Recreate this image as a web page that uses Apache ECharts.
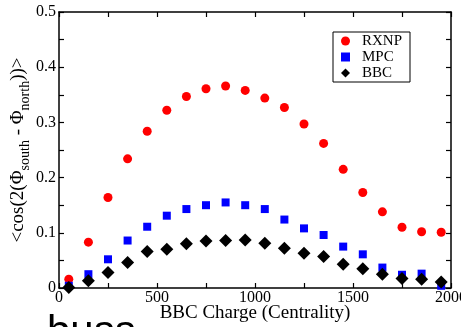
<!DOCTYPE html>
<html><head><meta charset="utf-8">
<script src="https://cdn.jsdelivr.net/npm/echarts@6/dist/echarts.min.js"></script>
<style>html,body{margin:0;padding:0;background:#fff}#c{width:461px;height:327px}</style>
</head><body><div id="c"></div>
<script>
const charge = [50,150,250,350,450,550,650,750,850,950,1050,1150,1250,1350,1450,1550,1650,1750,1850,1950];
const rxnp = [0.016,0.083,0.164,0.234,0.284,0.322,0.347,0.361,0.366,0.358,0.344,0.327,0.297,0.262,0.215,0.173,0.138,0.110,0.102,0.101];
const mpc  = [0.004,0.025,0.052,0.086,0.111,0.131,0.143,0.150,0.155,0.150,0.143,0.124,0.108,0.096,0.075,0.061,0.037,0.024,0.026,0.004];
const bbc  = [0.001,0.013,0.028,0.046,0.066,0.070,0.080,0.085,0.086,0.087,0.081,0.072,0.063,0.057,0.043,0.035,0.025,0.017,0.016,0.011];
const xTicks = [0,500,1000,1500,2000];
const yTicks = [0,0.1,0.2,0.3,0.4,0.5];

const serif = 'Liberation Serif';
const pairs = arr => charge.map((x,i)=>[x,arr[i]]);
const tickStyle = {show:true, inside:true, length:5, lineStyle:{color:'#000', width:1.2}};
const minorStyle = {show:true, splitNumber:2, length:5, lineStyle:{color:'#000', width:1.2}};
const lineStyle = {show:true, onZero:false, lineStyle:{color:'#000', width:1.5}};
const labelStyle = {color:'#000', fontFamily:serif, fontSize:16};

const chart = echarts.init(document.getElementById('c'), null, {renderer:'canvas'});
chart.setOption({
  animation:false,
  backgroundColor:'#fff',
  grid:{left:59, right:10, top:12, bottom:39, containLabel:false, outerBoundsMode:'none'},
  xAxis:[
    {type:'value', min:xTicks[0], max:xTicks[xTicks.length-1], interval:500, position:'bottom',
     axisLine:lineStyle, axisTick:tickStyle, minorTick:minorStyle, splitLine:{show:false},
     axisLabel:Object.assign({margin:2, formatter:v=>String(v)}, labelStyle),
     name:'BBC Charge (Centrality)', nameLocation:'middle', nameGap:16, nameMoveOverlap:false,
     nameTextStyle:{color:'#000', fontFamily:serif, fontSize:19}},
    {type:'value', min:0, max:2000, interval:500, position:'top',
     axisLine:lineStyle, axisTick:tickStyle, minorTick:minorStyle, splitLine:{show:false},
     axisLabel:{show:false}}
  ],
  yAxis:[
    {type:'value', min:yTicks[0], max:yTicks[yTicks.length-1], interval:0.1, position:'left',
     axisLine:lineStyle, axisTick:tickStyle, minorTick:minorStyle, splitLine:{show:false},
     axisLabel:Object.assign({margin:3, formatter:v=> v===0 ? '0' : v.toFixed(1)}, labelStyle),
     name:'<cos(2(Φ{sub|south} - Φ{sub|north}))>', nameLocation:'middle', nameGap:27, nameRotate:90,
     nameMoveOverlap:false,
     nameTextStyle:{color:'#000', fontFamily:serif, fontSize:19,
       rich:{sub:{fontFamily:serif, fontSize:14, color:'#000', padding:[14,0,0,0]}}}},
    {type:'value', min:0, max:0.5, interval:0.1, position:'right',
     axisLine:lineStyle, axisTick:tickStyle, minorTick:minorStyle, splitLine:{show:false},
     axisLabel:{show:false}}
  ],
  legend:{
    orient:'vertical', left:333, top:32, padding:[1,8,1,8], itemGap:0,
    itemWidth:9, itemHeight:9, borderColor:'#000', borderWidth:1, backgroundColor:'#fff',
    textStyle:{color:'#000', fontFamily:serif, fontSize:15, lineHeight:16, padding:[0,0,0,7]},
    data:[{name:'RXNP', icon:'circle'},{name:'MPC', icon:'rect'},{name:'BBC', icon:'diamond'}]
  },
  series:[
    {name:'RXNP', type:'scatter', data:pairs(rxnp), symbol:'circle', symbolSize:9, clip:false,
     itemStyle:{color:'#ff0000', opacity:1}},
    {name:'MPC', type:'scatter', data:pairs(mpc), symbol:'rect', symbolSize:8, clip:false,
     itemStyle:{color:'#0000ff', opacity:1}},
    {name:'BBC', type:'scatter', data:pairs(bbc), symbol:'diamond', symbolSize:13, clip:false,
     itemStyle:{color:'#000', opacity:1}}
  ],
  graphic:[
    {type:'text', x:47, y:333, style:{text:'buss', font:'42px "Liberation Sans"', fill:'#000', verticalAlign:'middle'}}
  ]
});
</script></body></html>
